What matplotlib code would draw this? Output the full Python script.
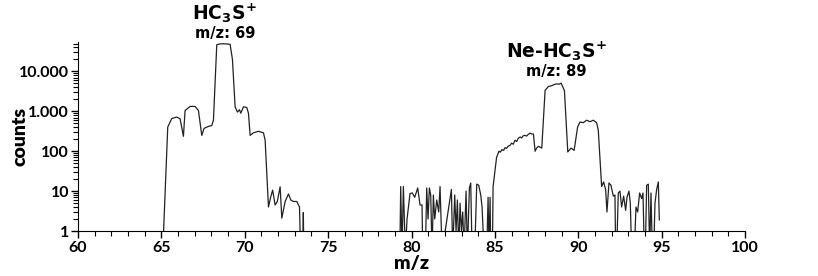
import numpy as np
import matplotlib
matplotlib.use("Agg")
import matplotlib.pyplot as plt
from matplotlib.ticker import FixedLocator, MultipleLocator, LogLocator, NullFormatter

plt.rcParams['font.family'] = ['Lato', 'DejaVu Sans']
plt.rcParams['mathtext.fontset'] = 'dejavusans'
plt.rcParams['mathtext.default'] = 'bf'

# ---- spectrum (m/z, counts); 0 = no counts ----
mz = [
    65.08, 65.38, 65.62, 65.92, 66.12, 66.32, 66.42, 66.72, 67.02, 67.22,
    67.42, 67.56, 67.82, 68.02, 68.12, 68.32, 68.5, 68.7, 68.9, 69.12,
    69.26, 69.42, 69.56, 69.68, 69.76, 69.92, 70.12, 70.22, 70.32, 70.52,
    70.82, 71.12, 71.22, 71.42, 71.55, 71.67, 71.82, 71.95, 72.12, 72.22,
    72.42, 72.62, 72.76, 72.92, 73.12, 73.28, 73.35, 73.48, 73.51, 73.54,
    79.3, 79.35, 79.43, 79.51, 79.63, 79.73, 79.91, 80.05, 80.19, 80.37,
    80.51, 80.63, 80.67, 80.83, 80.91, 80.99, 81.07, 81.15, 81.23, 81.31,
    81.39, 81.51, 81.63, 81.71, 81.83, 82.39, 82.47, 82.59, 82.67, 82.75,
    82.83, 82.91, 82.99, 83.07, 83.15, 83.27, 83.35, 83.47, 83.55, 83.63,
    83.79, 83.91, 84.03, 84.15, 84.23, 84.35, 84.51, 84.59, 84.65, 84.71,
    84.75, 84.85, 84.89, 85.1, 85.24, 85.33, 85.42, 85.52, 85.61, 85.7,
    85.8, 85.91, 86.0, 86.1, 86.21, 86.3, 86.4, 86.51, 86.6, 86.7,
    86.81, 86.9, 87.0, 87.11, 87.2, 87.31, 87.41, 87.5, 87.61, 87.81,
    88.01, 88.21, 88.41, 88.55, 88.71, 88.85, 88.97, 89.17, 89.37, 89.57,
    89.75, 89.96, 90.1, 90.3, 90.5, 90.7, 90.9, 91.1, 91.2, 91.4,
    91.52, 91.64, 91.72, 91.84, 91.96, 92.1, 92.2, 92.24, 92.3, 92.4,
    92.5, 92.6, 92.72, 92.84, 92.92, 93.04, 93.12, 93.2, 93.36, 93.46,
    93.56, 93.68, 93.8, 93.88, 93.96, 94.02, 94.1, 94.2, 94.28, 94.36,
    94.44, 94.52, 94.6, 94.7, 94.8, 94.86,
]
counts = [
    0, 405, 660, 720, 650, 237, 1050, 1330, 1330, 1050,
    250, 375, 420, 440, 600, 47000, 49000, 49500, 49000, 48000,
    20000, 1300, 960, 1100, 900, 1300, 1250, 900, 250, 290,
    316, 290, 190, 4, 7, 10.6, 4.5, 5.5, 12.8, 2.1,
    5.5, 8.5, 6, 5.5, 5.5, 4, 0, 0, 2.9, 0,
    0, 13, 0, 13, 0, 2, 8.7, 9, 7, 12,
    4.5, 4.5, 0, 0, 12, 2, 12, 8, 0, 8,
    2, 6, 3, 13, 0, 11, 0, 8, 1, 6,
    0, 5, 1, 3, 0, 10, 0, 12, 16, 0,
    0, 15, 14, 8, 4, 0, 0, 7, 0, 7,
    0, 0, 13, 70, 100, 95, 110, 105, 123, 118,
    135, 140, 160, 150, 190, 175, 210, 228, 215, 245,
    250, 240, 265, 285, 270, 270, 100, 120, 133, 120,
    3350, 4200, 4400, 4700, 4900, 4800, 5100, 3300, 96, 120,
    105, 405, 540, 520, 600, 550, 600, 520, 335, 13,
    17, 11, 3, 16, 14, 7.5, 8, 0, 0, 9,
    10, 4, 7.5, 3.3, 7, 10, 5, 0, 0, 4,
    3, 9, 6.5, 9, 0, 0, 14, 15, 0, 9,
    0, 0, 5, 11, 17, 1.9,
]

# zero counts drawn below the axis so they get clipped
y = np.array(counts, dtype=float)
y[y <= 0] = 0.3

fig = plt.figure(figsize=(8.18, 2.76), dpi=100)
ax = fig.add_axes([0.0954, 0.163, 0.8154, 0.685])
ax.plot(mz, y, color='#222222', lw=0.9)

ax.set_yscale('log')
ax.set_xlim(60, 100)
ax.set_ylim(1, 55000)

ax.xaxis.set_major_locator(MultipleLocator(5))
ax.xaxis.set_minor_locator(MultipleLocator(1))
ax.yaxis.set_major_locator(FixedLocator([1, 10, 100, 1000, 10000]))
ax.yaxis.set_minor_locator(LogLocator(base=10, subs=np.arange(2, 10)))
ax.yaxis.set_minor_formatter(NullFormatter())
ax.set_yticklabels(['1', '10', '100', '1.000', '10.000'])

for s in ['top', 'right']:
    ax.spines[s].set_visible(False)
ax.tick_params(which='major', direction='out', length=5, width=1, labelsize=11.5)
ax.tick_params(axis='x', which='major', pad=2)
ax.tick_params(axis='y', which='major', pad=1.5)
ax.tick_params(which='minor', direction='out', length=3.5, width=0.8)
for lab in ax.get_xticklabels() + ax.get_yticklabels():
    lab.set_fontweight('bold')

ax.set_xlabel('m/z', fontsize=14, fontweight='heavy', labelpad=0)
ax.set_ylabel('counts', fontsize=14, fontweight='heavy')
ax.yaxis.set_label_coords(-0.075, 0.5)

# peak labels
dv = ['DejaVu Sans']
tr = ax.get_xaxis_transform()
ax.text(68.8, 1.118, r'HC$_3$S$^{\!+}$', transform=tr, family=dv,
        ha='center', va='baseline', fontsize=13.5, fontweight='bold', clip_on=False)
ax.text(68.8, 1.022, 'm/z: 69', transform=tr, family=dv,
        ha='center', va='baseline', fontsize=10.5, fontweight='bold', clip_on=False)
ax.text(88.7, 0.915, r'Ne-HC$_3$S$^{\!+}$', transform=tr, family=dv,
        ha='center', va='baseline', fontsize=13.5, fontweight='bold', clip_on=False)
ax.text(88.7, 0.82, 'm/z: 89', transform=tr, family=dv,
        ha='center', va='baseline', fontsize=10.5, fontweight='bold', clip_on=False)

fig.savefig('out.png', dpi=100)
